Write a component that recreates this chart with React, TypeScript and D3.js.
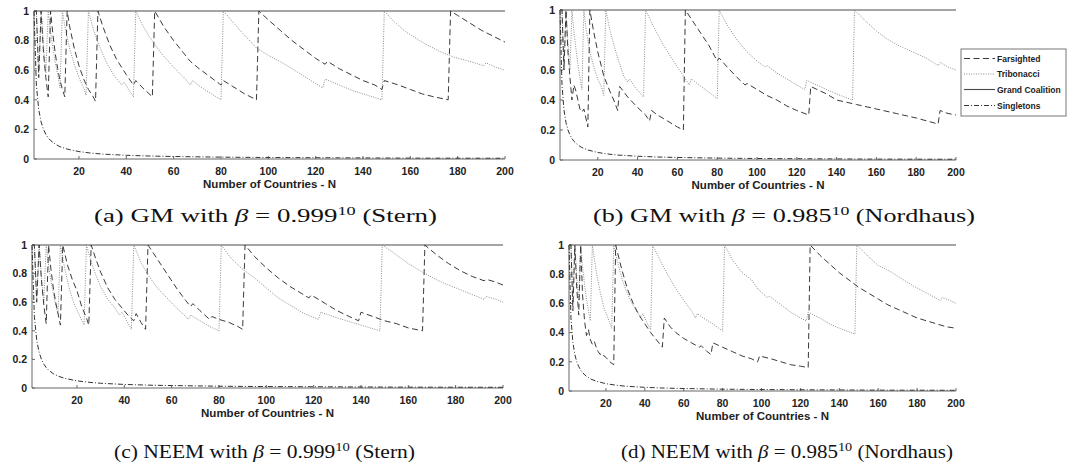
import React from "react";
import * as d3 from "d3";

type Pt = [number, number];

// ---------- axis vocabulary ----------
const xTicks = [20, 40, 60, 80, 100, 120, 140, 160, 180, 200];
const yTicks = [0, 0.2, 0.4, 0.6, 0.8, 1];
const yTickLabels = ["0", "0.2", "0.4", "0.6", "0.8", "1"];
const xAxisTitle = "Number of Countries - N";
const legendLabels = ["Farsighted", "Tribonacci", "Grand Coalition", "Singletons"];

// ---------- captions ----------
const captionTags = ["(a) GM with ", "(b) GM with ", "(c) NEEM with ", "(d) NEEM with "];
const betaBases = ["0.999", "0.985", "0.999", "0.985"];
const captionNotes = [" (Stern)", " (Nordhaus)", " (Stern)", " (Nordhaus)"];

// ---------- series shared by every panel ----------
const grandCoalition: Pt[] = [[1, 1], [200, 1]];
const singletons: Pt[] = [
  [1, 1], [2, 0.5], [3, 0.333], [4, 0.25], [5, 0.2], [6, 0.167], [7, 0.143], [8, 0.125],
  [10, 0.1], [12, 0.083], [15, 0.067], [20, 0.05], [25, 0.04], [30, 0.033], [40, 0.025],
  [50, 0.02], [60, 0.017], [80, 0.0125], [100, 0.01], [130, 0.008], [160, 0.006], [200, 0.005],
];

// ---------- (a) GM, Stern ----------
const gmSternFarsighted: Pt[] = [
  [1, 1], [2, 1], [3, 0.55], [4, 1], [5, 0.72], [6, 0.55], [7, 0.42], [8, 1], [9, 0.84], [10, 0.71],
  [11, 0.61], [12, 0.53], [13, 0.47], [14, 0.42], [15, 1], [16, 0.9], [18, 0.75], [20, 0.63], [22, 0.54],
  [24, 0.47], [26, 0.42], [27, 0.39], [28, 1], [30, 0.9], [33, 0.77], [36, 0.67], [40, 0.57], [43, 0.5],
  [44, 0.53], [47, 0.48], [51, 0.42], [52, 1], [56, 0.89], [60, 0.8], [64, 0.72], [67, 0.66], [70, 0.62],
  [75, 0.56], [80, 0.5], [81, 0.53], [85, 0.49], [90, 0.44], [95, 0.4], [96, 1], [100, 0.94], [105, 0.87],
  [110, 0.8], [115, 0.74], [120, 0.68], [124, 0.64], [125, 0.66], [130, 0.61], [135, 0.57], [140, 0.53],
  [145, 0.5], [148, 0.47], [149, 0.53], [155, 0.5], [160, 0.47], [165, 0.44], [170, 0.42], [176, 0.4],
  [177, 1], [180, 0.97], [185, 0.92], [190, 0.87], [195, 0.83], [200, 0.79],
];
const gmSternTribonacci: Pt[] = [
  [1, 1], [2, 1], [3, 0.58], [4, 1], [5, 0.76], [6, 0.58], [7, 1], [8, 0.86], [9, 0.75], [10, 0.65],
  [11, 0.57], [12, 0.48], [13, 1], [14, 0.9], [16, 0.75], [18, 0.64], [20, 0.55], [22, 0.48], [23, 0.43],
  [24, 1], [26, 0.88], [28, 0.79], [30, 0.71], [32, 0.64], [35, 0.56], [38, 0.5], [39, 0.52], [41, 0.47],
  [43, 0.42], [44, 1], [47, 0.9], [50, 0.82], [55, 0.71], [60, 0.62], [65, 0.54], [67, 0.5], [68, 0.53],
  [72, 0.48], [76, 0.44], [80, 0.4], [81, 1], [88, 0.87], [95, 0.75], [100, 0.7], [107, 0.64], [112, 0.59],
  [118, 0.53], [123, 0.48], [124, 0.54], [130, 0.5], [136, 0.46], [142, 0.43], [148, 0.4], [149, 1],
  [153, 0.93], [158, 0.86], [165, 0.79], [172, 0.73], [178, 0.69], [185, 0.66], [191, 0.63], [192, 0.65],
  [196, 0.62], [200, 0.6],
];

// ---------- (b) GM, Nordhaus ----------
const gmNordhausFarsighted: Pt[] = [
  [1, 1], [2, 1], [3, 0.6], [4, 1], [5, 0.72], [6, 0.55], [7, 0.4], [8, 0.5], [9, 0.46], [10, 0.4],
  [11, 0.34], [12, 0.32], [13, 0.34], [14, 0.28], [15, 0.22], [16, 1], [18, 0.85], [20, 0.72], [23, 0.56],
  [26, 0.46], [28, 0.4], [30, 0.33], [31, 0.49], [35, 0.42], [40, 0.35], [44, 0.3], [46, 0.26], [47, 0.33],
  [50, 0.3], [55, 0.26], [60, 0.22], [63, 0.2], [64, 1], [68, 0.92], [72, 0.84], [76, 0.76], [80, 0.66],
  [81, 0.68], [85, 0.62], [90, 0.55], [94, 0.5], [95, 0.51], [100, 0.47], [105, 0.43], [110, 0.4],
  [115, 0.36], [120, 0.33], [126, 0.3], [127, 0.49], [135, 0.44], [140, 0.4], [150, 0.37], [160, 0.34],
  [170, 0.31], [180, 0.28], [191, 0.24], [192, 0.33], [196, 0.31], [200, 0.3],
];
const gmNordhausTribonacci: Pt[] = [
  [1, 1], [2, 1], [3, 0.6], [4, 1], [5, 0.78], [6, 0.6], [7, 1], [8, 0.86], [9, 0.74], [10, 0.64],
  [11, 0.55], [12, 0.47], [13, 1], [14, 0.88], [16, 0.72], [18, 0.62], [20, 0.54], [22, 0.48], [23, 0.43],
  [24, 1], [26, 0.87], [28, 0.77], [30, 0.68], [33, 0.56], [35, 0.52], [36, 0.54], [39, 0.48], [43, 0.42],
  [44, 1], [48, 0.89], [52, 0.79], [56, 0.7], [60, 0.62], [64, 0.54], [66, 0.5], [67, 0.54], [72, 0.49],
  [76, 0.45], [80, 0.41], [81, 1], [85, 0.9], [90, 0.8], [95, 0.72], [100, 0.66], [104, 0.62], [105, 0.63],
  [110, 0.58], [115, 0.54], [120, 0.5], [124, 0.47], [125, 0.53], [130, 0.5], [135, 0.47], [140, 0.44],
  [144, 0.42], [148, 0.4], [149, 1], [155, 0.92], [160, 0.86], [165, 0.81], [170, 0.77], [175, 0.74],
  [180, 0.71], [185, 0.68], [191, 0.63], [192, 0.65], [196, 0.62], [200, 0.6],
];

// ---------- (c) NEEM, Stern ----------
const neemSternFarsighted: Pt[] = [
  [1, 1], [2, 1], [3, 0.6], [4, 1], [5, 0.75], [6, 0.58], [7, 0.45], [8, 1], [9, 0.83], [10, 0.7],
  [11, 0.6], [12, 0.52], [13, 0.44], [14, 1], [16, 0.86], [18, 0.76], [20, 0.68], [22, 0.57], [24, 0.49],
  [25, 0.44], [26, 1], [28, 0.9], [30, 0.81], [33, 0.7], [36, 0.62], [39, 0.56], [42, 0.5], [44, 0.47],
  [45, 0.52], [47, 0.46], [49, 0.41], [50, 1], [54, 0.9], [58, 0.8], [62, 0.7], [66, 0.61], [68, 0.57],
  [69, 0.59], [72, 0.54], [76, 0.48], [77, 0.5], [80, 0.48], [84, 0.46], [88, 0.43], [90, 0.41], [91, 1],
  [95, 0.92], [100, 0.84], [105, 0.77], [110, 0.71], [115, 0.66], [118, 0.63], [119, 0.65], [125, 0.59],
  [130, 0.54], [135, 0.5], [139, 0.47], [140, 0.53], [145, 0.5], [150, 0.47], [155, 0.45], [160, 0.42],
  [166, 0.4], [167, 1], [172, 0.93], [177, 0.87], [182, 0.82], [187, 0.78], [192, 0.75], [193, 0.76],
  [197, 0.74], [200, 0.72],
];
const neemSternTribonacci: Pt[] = [
  [1, 1], [2, 1], [3, 0.62], [4, 1], [5, 0.78], [6, 0.6], [7, 1], [8, 0.86], [9, 0.75], [10, 0.66],
  [11, 0.58], [12, 0.52], [13, 1], [15, 0.82], [17, 0.68], [19, 0.58], [21, 0.51], [23, 0.44], [24, 1],
  [26, 0.88], [28, 0.79], [30, 0.71], [33, 0.62], [36, 0.56], [38, 0.51], [39, 0.53], [41, 0.47],
  [43, 0.41], [44, 1], [47, 0.88], [50, 0.79], [54, 0.7], [58, 0.63], [62, 0.56], [66, 0.5], [67, 0.48],
  [68, 0.51], [72, 0.47], [76, 0.43], [80, 0.4], [81, 1], [85, 0.91], [90, 0.83], [95, 0.77], [100, 0.7],
  [105, 0.63], [110, 0.58], [116, 0.52], [122, 0.48], [123, 0.53], [130, 0.49], [136, 0.46], [142, 0.43],
  [148, 0.4], [149, 1], [155, 0.93], [160, 0.87], [167, 0.8], [174, 0.74], [180, 0.7], [186, 0.66],
  [192, 0.62], [193, 0.64], [197, 0.62], [200, 0.6],
];

// ---------- (d) NEEM, Nordhaus ----------
const neemNordhausFarsighted: Pt[] = [
  [1, 1], [2, 1], [3, 0.55], [4, 1], [5, 0.7], [6, 0.52], [7, 1], [8, 0.65], [9, 0.48], [10, 0.38],
  [11, 0.42], [12, 0.35], [13, 0.32], [14, 0.34], [15, 0.3], [16, 0.27], [17, 0.25], [18, 0.26], [19, 0.24],
  [20, 0.23], [22, 0.2], [24, 0.18], [25, 1], [28, 0.84], [31, 0.7], [34, 0.6], [37, 0.52], [40, 0.46],
  [43, 0.4], [46, 0.35], [49, 0.3], [50, 0.5], [53, 0.44], [56, 0.4], [60, 0.36], [64, 0.33], [68, 0.3],
  [69, 0.31], [72, 0.27], [74, 0.25], [75, 0.33], [80, 0.3], [85, 0.27], [90, 0.24], [95, 0.22], [98, 0.2],
  [99, 0.24], [105, 0.22], [110, 0.2], [115, 0.18], [120, 0.17], [124, 0.16], [125, 1], [130, 0.93],
  [135, 0.87], [140, 0.81], [145, 0.76], [150, 0.71], [155, 0.67], [160, 0.63], [165, 0.59], [170, 0.56],
  [175, 0.53], [180, 0.5], [185, 0.48], [190, 0.46], [195, 0.44], [200, 0.43],
];
const neemNordhausTribonacci: Pt[] = [
  [1, 1], [2, 1], [3, 0.6], [4, 1], [5, 0.78], [6, 0.62], [7, 1], [8, 0.85], [9, 0.73], [10, 0.63],
  [11, 0.55], [12, 0.48], [13, 1], [15, 0.82], [17, 0.68], [19, 0.57], [21, 0.5], [23, 0.43], [24, 1],
  [26, 0.88], [28, 0.78], [30, 0.7], [33, 0.61], [36, 0.54], [38, 0.51], [39, 0.53], [41, 0.47], [43, 0.42],
  [44, 1], [48, 0.89], [52, 0.79], [56, 0.7], [60, 0.62], [64, 0.55], [66, 0.5], [67, 0.53], [70, 0.5],
  [75, 0.46], [80, 0.41], [81, 1], [85, 0.9], [90, 0.81], [95, 0.76], [98, 0.7], [103, 0.64], [104, 0.65],
  [110, 0.59], [115, 0.54], [120, 0.5], [123, 0.48], [124, 0.54], [130, 0.5], [135, 0.46], [140, 0.43],
  [144, 0.41], [148, 0.39], [149, 1], [155, 0.92], [160, 0.86], [166, 0.82], [172, 0.77], [178, 0.72],
  [185, 0.67], [192, 0.62], [193, 0.64], [197, 0.62], [200, 0.6],
];

const farsightedByPanel = [gmSternFarsighted, gmNordhausFarsighted, neemSternFarsighted, neemNordhausFarsighted];
const tribonacciByPanel = [gmSternTribonacci, gmNordhausTribonacci, neemSternTribonacci, neemNordhausTribonacci];

// ---------- layout & styling ----------
const W = 1069;
const H = 471;
const N_DOMAIN: [number, number] = [1, 200];

const frames = [
  { x0: 34, x1: 505, y0: 11, y1: 159, capX: 94, capW: 343, capY: 222, capSize: 18 },
  { x0: 560, x1: 956, y0: 10, y1: 160, capX: 593, capW: 382, capY: 222, capSize: 18 },
  { x0: 32, x1: 503, y0: 245, y1: 388, capX: 114, capW: 301, capY: 458, capSize: 19 },
  { x0: 569, x1: 956, y0: 245, y1: 391, capX: 621, capW: 332, capY: 458, capSize: 19 },
];

const sans = "'Liberation Sans', Arial, Helvetica, sans-serif";
const serif = "'Liberation Serif', 'Times New Roman', serif";

const styles = {
  farsighted: { stroke: "#3a3a3a", dash: "6 3.5", width: 1 },
  tribonacci: { stroke: "#8c8c8c", dash: "1 1.4", width: 1 },
  grand: { stroke: "#4a4a4a", dash: "none", width: 1.1 },
  singletons: { stroke: "#333", dash: "5 2 1 2", width: 1 },
};

function Panel({ i }: { i: number }) {
  const f = frames[i];
  const x = d3.scaleLinear().domain(N_DOMAIN).range([f.x0, f.x1]);
  const y = d3.scaleLinear().domain([0, 1]).range([f.y1, f.y0]);
  const line = d3.line<Pt>().x((d) => x(d[0])).y((d) => y(d[1]));

  const series = [
    { data: singletons, s: styles.singletons },
    { data: grandCoalition, s: styles.grand },
    { data: tribonacciByPanel[i], s: styles.tribonacci },
    { data: farsightedByPanel[i], s: styles.farsighted },
  ];

  return (
    <g>
      {/* axes */}
      <line x1={f.x0} x2={f.x0} y1={f.y0} y2={f.y1} stroke="#666" strokeWidth={1} />
      <line x1={f.x0} x2={f.x1} y1={f.y1} y2={f.y1} stroke="#666" strokeWidth={1} />
      {xTicks.map((t) => (
        <g key={"xt" + t}>
          <line x1={x(t)} x2={x(t)} y1={f.y1} y2={f.y1 - 3} stroke="#666" />
          <text x={x(t)} y={f.y1 + 16} textAnchor="middle" fontFamily={sans} fontWeight="bold" fontSize={10.5} fill="#222">
            {t}
          </text>
        </g>
      ))}
      {yTicks.map((t, k) => (
        <g key={"yt" + t}>
          <line x1={f.x0} x2={f.x0 + 3} y1={y(t)} y2={y(t)} stroke="#666" />
          <text x={f.x0 - 5} y={y(t) + 3.8} textAnchor="end" fontFamily={sans} fontWeight="bold" fontSize={10.5} fill="#222">
            {yTickLabels[k]}
          </text>
        </g>
      ))}
      <text
        x={(f.x0 + f.x1) / 2}
        y={f.y1 + 29}
        textAnchor="middle"
        fontFamily={sans}
        fontWeight="bold"
        fontSize={11.5}
        fill="#222"
      >
        {xAxisTitle}
      </text>

      {/* curves */}
      {series.map((sr, k) => (
        <path
          key={"s" + k}
          d={line(sr.data) || ""}
          fill="none"
          stroke={sr.s.stroke}
          strokeWidth={sr.s.width}
          strokeDasharray={sr.s.dash}
        />
      ))}

      {/* caption */}
      <text
        x={f.capX}
        y={f.capY}
        fontFamily={serif}
        fontSize={f.capSize}
        fill="#111"
        textLength={f.capW}
        lengthAdjust="spacingAndGlyphs"
      >
        <tspan>{captionTags[i]}</tspan>
        <tspan fontStyle="italic">β</tspan>
        <tspan>{" = " + betaBases[i]}</tspan>
        <tspan fontSize={f.capSize * 0.68} dy={-7}>10</tspan>
        <tspan dy={7}>{captionNotes[i]}</tspan>
      </text>
    </g>
  );
}

function Legend() {
  const bx = 961;
  const by = 49;
  const rows = [58.5, 74, 89.5, 105.5];
  const keys = [styles.farsighted, styles.tribonacci, styles.grand, styles.singletons];
  return (
    <g>
      <rect x={bx} y={by} width={105} height={67} fill="#fff" stroke="#777" strokeWidth={1} />
      {legendLabels.map((lab, k) => (
        <g key={lab}>
          <line
            x1={bx + 3}
            x2={bx + 34}
            y1={rows[k]}
            y2={rows[k]}
            stroke={keys[k].stroke}
            strokeWidth={keys[k].width}
            strokeDasharray={keys[k].dash}
          />
          <text x={bx + 36} y={rows[k] + 3} fontFamily={sans} fontWeight="bold" fontSize={8.5} fill="#222">
            {lab}
          </text>
        </g>
      ))}
    </g>
  );
}

export default function App() {
  return (
    <svg
      width={W}
      height={H}
      viewBox={`0 0 ${W} ${H}`}
      style={{ position: "absolute", left: 0, top: 0, background: "#fff" }}
    >
      <rect x={0} y={0} width={W} height={H} fill="#fff" />
      {frames.map((_, i) => (
        <Panel key={i} i={i} />
      ))}
      <Legend />
    </svg>
  );
}
